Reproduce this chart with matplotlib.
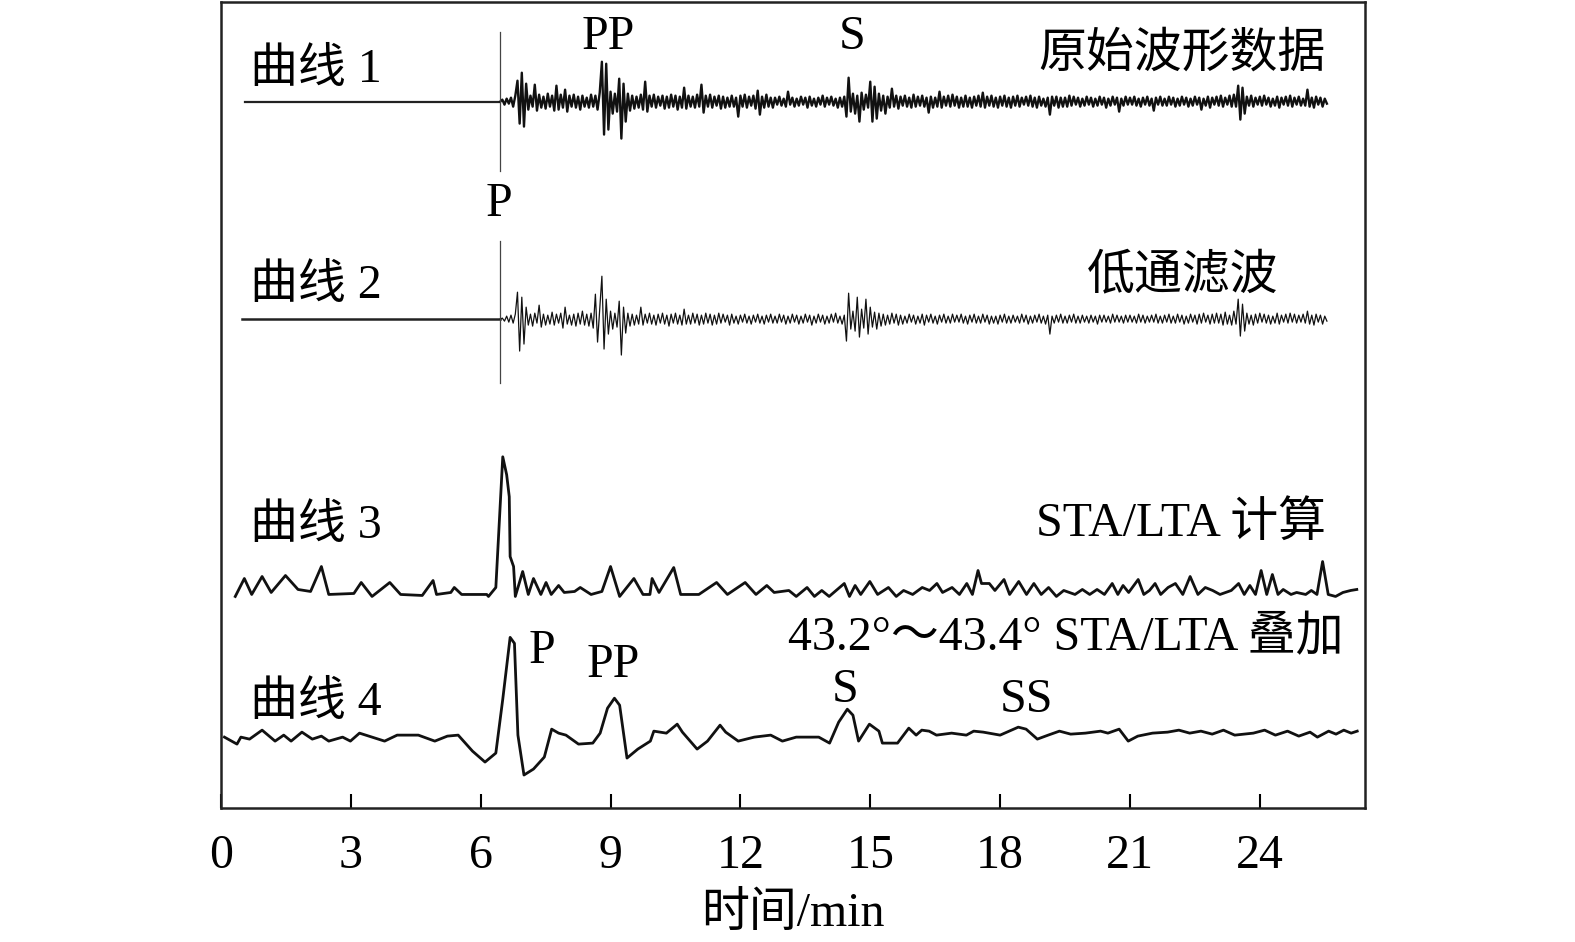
import numpy as np
import matplotlib
matplotlib.use("Agg")
import matplotlib.pyplot as plt

plt.rcParams['font.family'] = ['Liberation Serif', 'Noto Sans CJK SC', 'DejaVu Sans']

# ---- data (time in min, amplitude in screen units) ----
wave_t0 = 6.45
wave_dt = 0.05

# curve 1: raw waveform
raw_pre_t = [0.56, 6.45]
raw_amp = [
    0, 2, -3, 3, -2, 4, -5, 6,
    21, -22, 29, -25, 18,
    -8, 6, -5, 17, -9, 7, -6, 5, -7, 8, -5, 6, -9, 16, -8, 7, -6, 12, -10, 6,
    -5, 7, -6, 5, -8, 6, -5, 4, -6, 7, -5, 6, -8, 9,
    40, -33, 38, -28,
    10, -12, 8, -10,
    23, -37, 18, -20,
    8, -9, 6, -7, 5, -6, 7, -8, 20, -10,
    6, -5, 7, -6, 5, -4, 6, -7, 5, -6,
    7, -5, 6, -8, 5, -6, 14, -7, 6, -5,
    5, -6, 7, -5, 17, -11, 6, -5, 7, -6,
    5, -4, 6, -7, 5, -6, 4, -5, 6, -5,
    4, -15, 6, -5, 7, -6, 5, -4, 6, -7,
    11, -13, 5, -6, 7, -5, 4, -6,
    4, -3, 5, -4, 3, -5, 10, -3, 4, -5,
    3, -4, 5, -3, 4, -6, 5, -4, 3, -5,
    4, -3, 6, -5, 4, -3, 5, -4, 3, -6,
    4, -5, 5, -15,
    24, -10, 8, -12, 6, -20, 9, -8, 7, -6, 20, -20, 15, -17, 8, -9,
    6, -12, 5, -6, 13, -5, 6, -7, 5, -4,
    6, -5, 4, -6, 7, -5, 5, -4, 6, -5,
    4, -11, 5, -6, 4, -5, 10, -6, 5, -4,
    6, -5, 7, -4, 5, -6, 4, -5, 6, -5,
    4, -6, 5, -4, 6, -5, 9, -6, 5, -4,
    6, -5, 4, -6, 5, -4, 6, -5, 4, -6,
    5, -4, 6, -5, 4, -3, 5, -4, 6, -5,
    4, -6, 5, -4, 3, -5, 4, -13, 5, -4,
    5, -6, 4, -5,
    4, -5, 6, -4, 5, -3, 4, -5, 3, -4,
    5, -3, 4, -5, 3, -4, 5, -3, 4, -6,
    3, -4, 5, -3, 4, -10, 3, -4, 5, -3,
    4, -3, 5, -4, 3, -5, 4, -3, 5, -4,
    3, -9, 4, -3, 5, -4, 3, -4, 5, -3,
    4, -5, 3, -4, 5, -3, 4, -5, 3, -4,
    5, -3, 4, -8, 3, -4, 5, -6, 4, -3,
    5, -4, 6, -5, 4, -3, 6, -5, 7, -5,
    16, -18, 14, -12, 5, -4, 6, -5, 4, -3,
    5, -4, 6, -3, 4, -5, 3, -4, 5, -6,
    4, -3, 5, -4, 6, -5, 4, -3, 5, -4,
    3, -4, 12, -5, 4, -6, 5, -3, 4, -5,
    3, -2,
]

# curve 2: low-pass filtered
lp_pre_t = [0.49, 6.45]
lp_amp = [
    0, 1, -2, 3, -3, 4, -4, 5,
    27, -32, 22, -25, 12,
    -6, 5, -7, 6, -4, 14, -8, 5, -6, 4,
    -5, 7, -6, 5, -4, 6, -9, 12, -5, 4,
    -6, 5, -7, 6, -5, 8, -6, 5, -7, 6,
    -9, 25, -23, 10,
    43, -30, 20, -15,
    8, -10, 6, -8,
    18, -36, 12, -14,
    6, -7, 5, -6, 4, -5, 12, -6, 5, -4,
    6, -5, 4, -6, 5, -4, 6, -5, 4, -7,
    5, -4, 6, -5, 4, -6, 10, -5, 4, -5,
    6, -4, 5, -6, 4, -5, 6, -4, 5, -6,
    4, -5, 6, -4, 5, -3, 4, -6, 5, -4,
    3, -5, 4, -3, 5, -4, 3, -5, 4, -3,
    5, -4, 3, -5, 4, -3, 5, -4,
    3, -4, 5, -3, 4, -5, 3, -4, 5, -3,
    4, -5, 3, -4, 5, -3, 4, -6, 3, -4,
    5, -3, 4, -5, 3, -4, 5, -3, 6, -4,
    3, -5, 4, -22,
    26, -10, 8, -12, 22, -18, 10, -9, 20, -15, 12, -8, 7, -10, 6, -7,
    5, -6, 4, -5, 6, -4, 5, -6, 4, -5,
    3, -4, 5, -3, 4, -5, 3, -4, 5, -6,
    4, -3, 5, -4, 3, -5, 4, -3, 5, -4,
    3, -4, 5, -3, 4, -3, 5, -4, 3, -5,
    4, -3, 5, -4, 3, -4, 5, -3, 4, -5,
    3, -4, 3, -5, 4, -3, 5, -4, 3, -4,
    4, -3, 3, -4, 5, -3, 4, -5, 3, -4,
    4, -3, 5, -4, 3, -5, 4, -15, 3, -4,
    4, -3, 5, -4,
    3, -4, 4, -3, 5, -4, 3, -4, 4, -3,
    3, -4, 4, -3, 3, -5, 4, -3, 4, -3,
    3, -4, 5, -3, 4, -3, 3, -4, 4, -3,
    4, -3, 3, -4, 5, -3, 4, -4, 3, -3,
    4, -3, 5, -4, 3, -4, 4, -3, 5, -4,
    3, -4, 5, -3, 4, -5, 3, -4, 5, -3,
    4, -5, 5, -4, 6, -3, 4, -5, 5, -4,
    6, -4, 5, -6, 7, -5, 4, -6, 8, -5,
    20, -17, 15, -12, 6, -5, 4, -6, 5, -4,
    6, -3, 5, -4, 4, -5, 3, -4, 6, -5,
    4, -3, 5, -4, 6, -3, 5, -4, 4, -3,
    5, -4, 8, -5, 4, -6, 5, -3, 4, -5,
    3, -2,
]

# curve 3: STA/LTA ratio
sta_t = [0.33, 0.54, 0.71, 0.95, 1.16, 1.49, 1.78, 2.07, 2.32, 2.49, 3.07, 3.24,
         3.49, 3.90, 4.15, 4.65, 4.90, 4.98, 5.31, 5.39, 5.56, 6.14, 6.18, 6.35,
         6.51, 6.60, 6.66, 6.68, 6.76, 6.80, 6.97, 7.10, 7.22, 7.39, 7.51, 7.63,
         7.80, 7.93, 8.17, 8.30, 8.55, 8.80, 9.00, 9.21, 9.54, 9.75, 9.91, 9.96,
         10.12, 10.46, 10.62, 11.04, 11.45, 11.70, 12.11, 12.36, 12.61, 12.78,
         13.12, 13.29, 13.54, 13.71, 13.88, 14.05, 14.40, 14.52, 14.65, 14.78,
         14.99, 15.17, 15.42, 15.60, 15.77, 15.98, 16.20, 16.37, 16.54, 16.67,
         16.89, 17.06, 17.23, 17.36, 17.49, 17.57, 17.75, 17.88, 18.09, 18.22,
         18.43, 18.61, 18.78, 18.95, 19.12, 19.30, 19.47, 19.73, 19.90, 20.07,
         20.24, 20.41, 20.59, 20.72, 20.84, 20.97, 21.19, 21.32, 21.45, 21.58,
         21.71, 21.88, 22.05, 22.22, 22.39, 22.57, 22.74, 22.91, 23.08, 23.34,
         23.51, 23.64, 23.77, 23.90, 24.03, 24.16, 24.29, 24.42, 24.54, 24.72,
         24.85, 25.06, 25.19, 25.32, 25.45, 25.58, 25.75, 25.92, 26.10, 26.24]
sta_val = [0, 18, 2, 20, 4, 21, 7, 5, 30, 2, 3, 14,
           0, 14, 2, 1, 16, 2, 4, 9, 2, 2, 0, 9,
           140, 122, 100, 40, 30, 0, 25, 2, 18, 2, 14, 2,
           11, 4, 5, 9, 2, 5, 30, 0, 18, 2, 2, 18,
           4, 29, 2, 2, 14, 2, 14, 2, 11, 4,
           6, 0, 9, 0, 6, 0, 13, 0, 11, 2,
           15, 2, 9, 0, 6, 2, 9, 6, 13, 4,
           9, 2, 13, 2, 26, 13, 13, 6, 17, 2,
           15, 2, 13, 2, 9, 0, 6, 2, 7, 2,
           7, 2, 13, 2, 11, 4, 17, 2, 6, 13,
           2, 9, 13, 2, 20, 2, 9, 6, 2, 6,
           13, 2, 11, 2, 26, 2, 22, 2, 7, 2,
           4, 2, 6, 2, 35, 2, 0, 4, 6, 7]

# curve 4: stacked STA/LTA, 43.2-43.4 deg
stack_t = [0.08, 0.37, 0.46, 0.66, 0.95, 1.25, 1.45, 1.62, 1.87, 2.11, 2.32, 2.49,
           2.81, 2.99, 3.20, 3.49, 3.78, 4.07, 4.56, 4.94, 5.23, 5.48, 5.81, 6.10,
           6.35, 6.51, 6.68, 6.78, 6.86, 7.00, 7.22, 7.47, 7.64, 7.80, 7.97, 8.26,
           8.59, 8.76, 8.93, 9.09, 9.21, 9.38, 9.63, 9.92, 10.00, 10.29, 10.54,
           10.66, 11.00, 11.24, 11.53, 11.66, 11.95, 12.32, 12.70, 12.97,
           13.29, 13.81, 14.06, 14.27, 14.47, 14.60, 14.73, 14.98, 15.20, 15.28,
           15.63, 15.89, 16.06, 16.19, 16.36, 16.53, 16.88, 17.22, 17.39, 17.61,
           18.00, 18.42, 18.60, 18.86, 19.11, 19.37, 19.63, 19.97, 20.32, 20.49,
           20.75, 20.96, 21.18, 21.52, 21.87, 22.13, 22.38, 22.64, 22.90, 23.16,
           23.42, 23.85, 24.11, 24.36, 24.64, 24.90, 25.16, 25.33, 25.59, 25.76,
           25.94, 26.11, 26.25]
stack_val = [0, -7, 0, -2, 7, -4, 2, -4, 5, -2, 1, -4,
             0, -4, 4, 0, -4, 2, 2, -4, 1, 2, -14, -25,
             -16, 38, 100, 94, 2, -38, -32, -20, 8, 4, 2, -7,
             -6, 4, 29, 39, 32, -21, -12, -4, 6, 4, 13,
             5, -12, -4, 12, 5, -4, 0, 2, -4,
             0, 0, -6, 15, 28, 22, -4, 13, 6, -6,
             -6, 9, 2, 7, 6, 2, 4, 2, 6, 5,
             2, 10, 8, -2, 2, 6, 3, 4, 6, 4,
             8, -4, 1, 4, 5, 7, 4, 6, 3, 7,
             2, 4, 7, 2, 6, 1, 5, 0, 6, 3,
             7, 4, 6]

tick_vals = [0, 3, 6, 9, 12, 15, 18, 21, 24]
p_pick = 6.44

# ---- figure ----
fig = plt.figure(figsize=(15.75, 9.42), dpi=100)
ax = fig.add_axes([0.1403, 0.1423, 0.7261, 0.8557])
ax.set_xlim(0, 26.42)
ax.set_ylim(0, 808)

base1, base2, base3, base4 = 708, 490, 212, 71

raw_t = wave_t0 + wave_dt * np.arange(len(raw_amp))
lp_t = wave_t0 + wave_dt * np.arange(len(lp_amp))

ax.plot(raw_pre_t, [base1, base1], color='#222222', lw=1.6)
ax.plot(raw_t, base1 + np.array(raw_amp), color='#111111', lw=1.7)
ax.plot(lp_pre_t, [base2, base2], color='#222222', lw=1.8)
ax.plot(lp_t, base2 + np.array(lp_amp), color='#111111', lw=0.9)
ax.plot(sta_t, base3 + np.array(sta_val), color='#111111', lw=2.0)
ax.plot(stack_t, base4 + np.array(stack_val), color='#111111', lw=2.0)

# P pick markers
ax.plot([p_pick, p_pick], [638, 778], color='#444444', lw=0.9)
ax.plot([p_pick, p_pick], [426, 568], color='#444444', lw=0.9)

fs = 34.5
ax.text(0.66, 740, '曲线 1', fontsize=fs, ha='left', va='center')
ax.text(0.66, 523, '曲线 2', fontsize=fs, ha='left', va='center')
ax.text(0.66, 283, '曲线 3', fontsize=fs, ha='left', va='center')
ax.text(0.66, 105, '曲线 4', fontsize=fs, ha='left', va='center')

ax.text(25.52, 756, '原始波形数据', fontsize=fs, ha='right', va='center')
ax.text(24.43, 533, '低通滤波', fontsize=fs, ha='right', va='center')
ax.text(25.52, 285, 'STA/LTA 计算', fontsize=fs, ha='right', va='center')
ax.text(25.93, 170, '43.2°～43.4° STA/LTA 叠加', fontsize=fs, ha='right', va='center')

ax.text(8.95, 773, 'PP', fontsize=fs, ha='center', va='center')
ax.text(14.57, 773, 'S', fontsize=fs, ha='center', va='center')
ax.text(6.42, 605, 'P', fontsize=fs, ha='center', va='center')
ax.text(7.41, 157, 'P', fontsize=fs, ha='center', va='center')
ax.text(9.07, 143, 'PP', fontsize=fs, ha='center', va='center')
ax.text(14.43, 118, 'S', fontsize=fs, ha='center', va='center')
ax.text(18.61, 108, 'SS', fontsize=fs, ha='center', va='center')

ax.set_xticks(tick_vals)
ax.set_xticklabels([str(v) for v in tick_vals], fontsize=fs)
ax.set_yticks([])
ax.tick_params(axis='x', direction='in', length=10, width=1.5, pad=19)
for s in ax.spines.values():
    s.set_linewidth(1.8)
    s.set_color('#222222')
ax.set_xlabel('时间/min', fontsize=fs, labelpad=10)

fig.savefig('out.png', dpi=100)
